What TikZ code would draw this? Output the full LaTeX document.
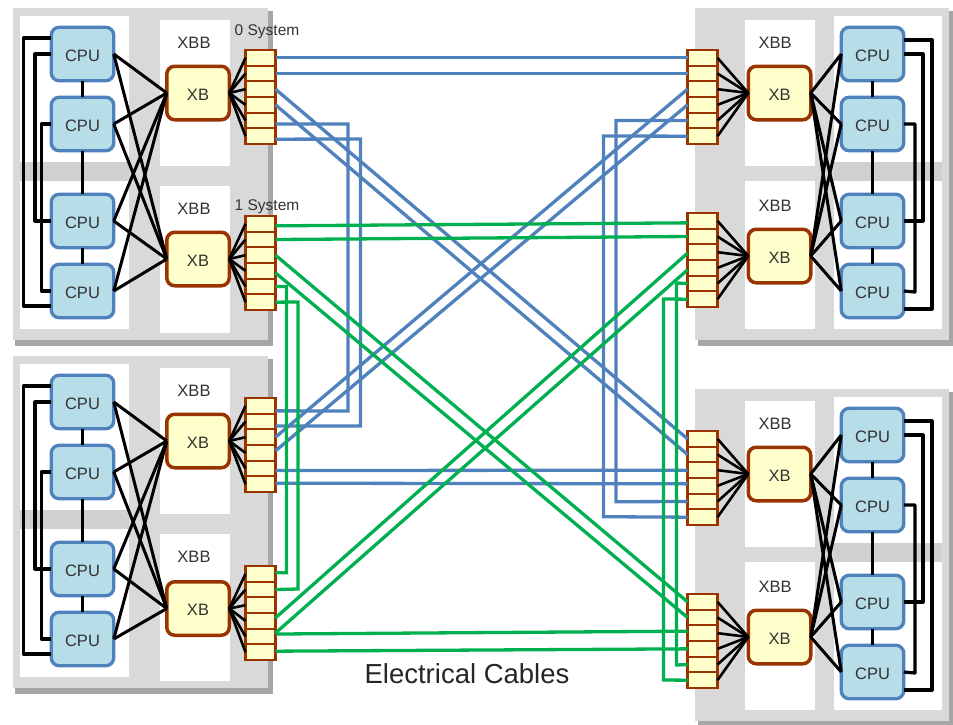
\documentclass[tikz,border=0pt]{standalone}
\usepackage{fontspec}
\setmainfont{Liberation Sans}
\definecolor{boardgray}{HTML}{D9D9D9}
\definecolor{bandgray}{HTML}{D0D0D0}
\definecolor{shadowgray}{HTML}{A6A6A6}
\definecolor{cpufill}{HTML}{B7DDE8}
\definecolor{cpuline}{HTML}{4F81BD}
\definecolor{xbfill}{HTML}{FFFFCC}
\definecolor{xbline}{HTML}{993300}
\definecolor{bluecable}{HTML}{4F81BD}
\definecolor{greencable}{HTML}{00B050}
\definecolor{txt}{HTML}{333333}
\tikzset{
  cpubox/.style={draw=cpuline,fill=cpufill,line width=3.3pt,rounded corners=8pt,minimum width=62.5pt,minimum height=53.5pt,inner sep=0pt,outer sep=0pt,text=txt,text height=14pt,text depth=0pt,font=\fontsize{16.5}{18}\selectfont},
  xbbox/.style={draw=xbline,fill=xbfill,line width=3.5pt,rounded corners=8pt,minimum width=62.5pt,minimum height=53.5pt,inner sep=0pt,outer sep=0pt,text=txt,text height=14pt,text depth=0pt,font=\fontsize{16.5}{18}\selectfont},
  cell/.style={draw=xbline,fill=xbfill,line width=2.1pt,minimum width=30pt,minimum height=15.67pt,inner sep=0pt,outer sep=0pt},
  wire/.style={draw=black,line width=3pt},
  fan/.style={draw=black,line width=2.6pt},
  ring/.style={draw=black,line width=3.2pt,line join=round},
  bcable/.style={draw=bluecable,line width=3.3pt},
  gcable/.style={draw=greencable,line width=3.3pt},
  lab/.style={text=txt,inner sep=0pt,font=\fontsize{16.5}{18}\selectfont},
  syslab/.style={text=txt,inner sep=0pt,font=\fontsize{15.5}{18}\selectfont},
  bigt/.style={text=black!85,inner sep=0pt,font=\fontsize{27.5}{30}\selectfont}
}
\newcommand{\leftmod}[4]{%
\begin{scope}[shift={(0,#2)}]
  \fill[shadowgray] (15,10.5) rectangle (273,345.5);
  \fill[boardgray] (12.5,7.5) rectangle (268,340);
  \fill[white] (20.3,15.7) rectangle (129,162.3);
  \fill[bandgray] (20.3,162.3) rectangle (129,181);
  \fill[white] (20.3,181) rectangle (129,329);
  \fill[white] (160,20) rectangle (230,166);
  \fill[white] (160,186) rectangle (230,333);
  \node[lab] (#1-l1) at (194,43) {XBB};
  \node[lab] (#1-l2) at (194,209) {XBB};
  \node[cpubox] (#1-c1) at (82.5,54) {CPU};
  \node[cpubox] (#1-c2) at (82.5,124) {CPU};
  \node[cpubox] (#1-c3) at (82.5,221) {CPU};
  \node[cpubox] (#1-c4) at (82.5,291) {CPU};
  \draw[ring] (#1-c1.south) -- (#1-c2.north) (#1-c2.south) -- (#1-c3.north) (#1-c3.south) -- (#1-c4.north);
  \node[xbbox] (#1-x1) at (198,93) {XB};
  \node[xbbox] (#1-x2) at (198,#3) {XB};
  \foreach \i in {1,...,6}{
    \node[cell] (#1-a\i) at (260.5,{50+15.67*(\i-.5)}) {};
    \node[cell] (#1-b\i) at (260.5,{#4+15.67*(\i-.5)}) {};
    \draw[fan] (#1-x1.east) -- (#1-a\i.west);
    \draw[fan] (#1-x2.east) -- (#1-b\i.west);
  }
  \foreach \c in {1,2,3,4}{
    \draw[wire] (#1-c\c.east) -- (#1-x1.west);
    \draw[wire] (#1-c\c.east) -- (#1-x2.west);
  }
  \draw[ring] ([yshift=16pt]#1-c1.west) -- (23.5,38) -- (23.5,306) -- ([yshift=-15pt]#1-c4.west);
  \draw[ring] (#1-c1.west) -- (35,54) -- (35,221) -- (#1-c3.west);
  \draw[ring] (#1-c2.west) -- (41.5,124) -- (41.5,291) -- (#1-c4.west);
\end{scope}}
\newcommand{\rightmod}[2]{%
\begin{scope}[shift={(0,#2)}]
  \fill[shadowgray] (698,10.5) rectangle (953,345.5);
  \fill[boardgray] (695,7.5) rectangle (949,340);
  \fill[white] (834,15.7) rectangle (942,162.3);
  \fill[bandgray] (834,162.3) rectangle (942,181);
  \fill[white] (834,181) rectangle (942,329);
  \fill[white] (745,20) rectangle (815,166);
  \fill[white] (745,181) rectangle (815,329);
  \node[lab] (#1-l1) at (775,43) {XBB};
  \node[lab] (#1-l2) at (775,206) {XBB};
  \node[cpubox] (#1-c1) at (872.5,54) {CPU};
  \node[cpubox] (#1-c2) at (872.5,124) {CPU};
  \node[cpubox] (#1-c3) at (872.5,221) {CPU};
  \node[cpubox] (#1-c4) at (872.5,291) {CPU};
  \draw[ring] (#1-c1.south) -- (#1-c2.north) (#1-c2.south) -- (#1-c3.north) (#1-c3.south) -- (#1-c4.north);
  \node[xbbox] (#1-x1) at (779.5,93) {XB};
  \node[xbbox] (#1-x2) at (779.5,256) {XB};
  \foreach \i in {1,...,6}{
    \node[cell] (#1-a\i) at (702.5,{50+15.67*(\i-.5)}) {};
    \node[cell] (#1-b\i) at (702.5,{213+15.67*(\i-.5)}) {};
    \draw[fan] (#1-x1.west) -- (#1-a\i.east);
    \draw[fan] (#1-x2.west) -- (#1-b\i.east);
  }
  \foreach \c in {1,2,3,4}{
    \draw[wire] (#1-c\c.west) -- (#1-x1.east);
    \draw[wire] (#1-c\c.west) -- (#1-x2.east);
  }
  \draw[ring] ([yshift=14pt]#1-c1.east) -- (932,40) -- (932,309) -- ([yshift=-18pt]#1-c4.east);
  \draw[ring] (#1-c1.east) -- (923,54) -- (923,221) -- (#1-c3.east);
  \draw[ring] (#1-c2.east) -- (915,124) -- (915,292) -- (#1-c4.east);
\end{scope}}
\begin{document}
\begin{tikzpicture}[x=1pt,y=-1pt]
  \useasboundingbox (0,0) rectangle (953,724);
  \fill[white] (0,0) rectangle (953,724);
  \rightmod{tr}{0}
  \rightmod{br}{381}
  \leftmod{tl}{0}{259}{216}
  \leftmod{bl}{348}{260.5}{218}
  \node[syslab] (s0) at (267,32) {0 System};
  \node[syslab] (s1) at (267,207) {1 System};
  \node[bigt] (title) at (467,674) {Electrical Cables};
  % blue cables
  \draw[bcable] (tl-a1.east) -- (tr-a1.west);
  \draw[bcable] (tl-a2.east) -- (tr-a2.west);
  \draw[bcable] (tl-a3.east) -- (br-a1.west);
  \draw[bcable] (tl-a4.east) -- (br-a2.west);
  \draw[bcable] ([yshift=-3.5pt]tl-a5.east) -- (348,124) -- (348,411) -- ([yshift=-5pt]bl-a1.east);
  \draw[bcable] ([yshift=-3pt]tl-a6.east) -- (360.5,139) -- (360.5,426) -- ([yshift=-4.5pt]bl-a2.east);
  \draw[bcable] (tr-a3.west) -- (bl-a3.east);
  \draw[bcable] (tr-a4.west) -- ([yshift=2pt]bl-a4.east);
  \draw[bcable] (tr-a5.west) -- (616,120.5) -- (616,501.7) -- (br-a5.west);
  \draw[bcable] (tr-a6.west) -- (603.5,136) -- (603.5,516.7) -- (br-a6.west);
  \draw[bcable] ([yshift=-2pt]bl-a5.east) -- (br-a3.west);
  \draw[bcable] ([yshift=1pt]bl-a6.east) -- ([yshift=2pt]br-a4.west);
  % green cables
  \draw[gcable] ([yshift=-2pt]tl-b1.east) -- ([yshift=-2pt]tr-b1.west);
  \draw[gcable] (tl-b2.east) -- (tr-b2.west);
  \draw[gcable] (tl-b3.east) -- (br-b1.west);
  \draw[gcable] ([yshift=-2pt]tl-b4.east) -- (br-b2.west);
  \draw[gcable] (tl-b5.east) -- (286.5,286.5) -- (286.5,572.7) -- ([yshift=1pt]bl-b1.east);
  \draw[gcable] (tl-b6.east) -- (298,302) -- (298,589) -- (bl-b2.east);
  \draw[gcable] ([yshift=3pt]bl-b4.east) -- ([yshift=-1pt]tr-b3.west);
  \draw[gcable] ([yshift=3.5pt]bl-b5.east) -- ([yshift=-2pt]tr-b4.west);
  \draw[gcable] ([yshift=2.5pt]bl-b5.east) -- ([yshift=2pt]br-b3.west);
  \draw[gcable] ([yshift=1pt]bl-b6.east) -- (br-b4.west);
  \draw[gcable] (tr-b5.west) -- (676.5,283) -- (676.5,665) -- (br-b5.west);
  \draw[gcable] (tr-b6.west) -- (663.5,299) -- (663.5,680) -- (br-b6.west);
\end{tikzpicture}
\end{document}
